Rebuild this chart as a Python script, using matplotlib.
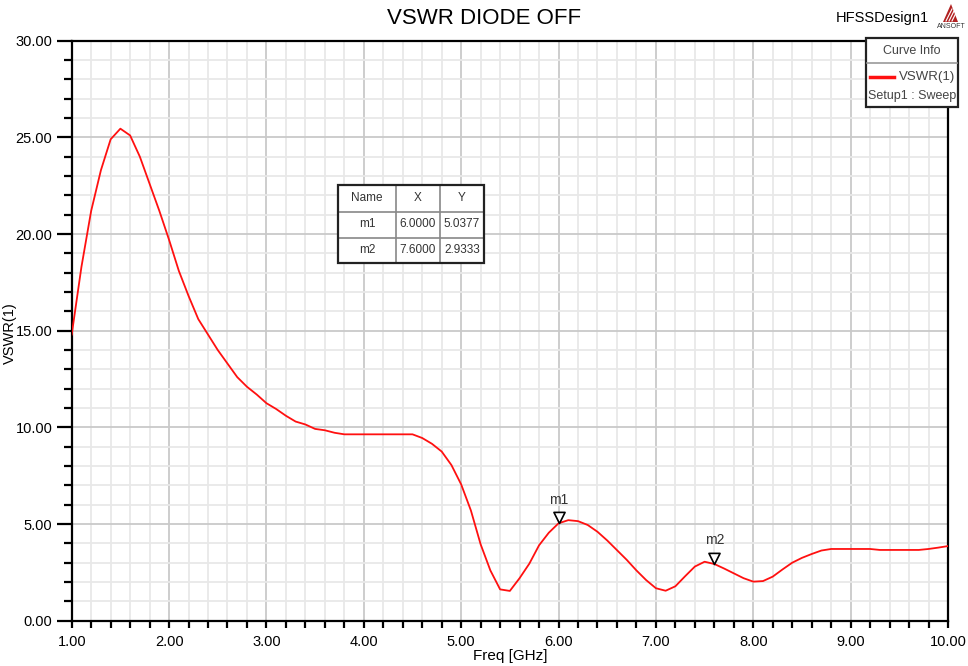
import numpy as np
import matplotlib
matplotlib.use('Agg')
import matplotlib.pyplot as plt
from matplotlib import font_manager
from matplotlib.path import Path
from matplotlib.patches import Rectangle, Polygon
from matplotlib.ticker import MultipleLocator, FormatStrFormatter

# VSWR sweep, 1-10 GHz in 0.1 GHz steps
freq = np.round(np.arange(1.0, 10.01, 0.1), 2)
vswr = [
    14.80, 18.30, 21.20, 23.30, 24.90, 25.45, 25.10, 24.00, 22.60, 21.20,   # 1.0 - 1.9
    19.70, 18.10, 16.80, 15.60, 14.80, 14.00, 13.30, 12.60, 12.10, 11.70,   # 2.0 - 2.9
    11.25, 10.95, 10.60, 10.30, 10.15, 9.92, 9.85, 9.72, 9.64, 9.64,        # 3.0 - 3.9
    9.64, 9.64, 9.64, 9.64, 9.64, 9.64, 9.45, 9.15, 8.75, 8.05,             # 4.0 - 4.9
    7.05, 5.70, 3.95, 2.60, 1.62, 1.54, 2.20, 2.95, 3.90, 4.55,             # 5.0 - 5.9
    5.0377, 5.20, 5.15, 4.95, 4.60, 4.15, 3.65, 3.15, 2.60, 2.10,           # 6.0 - 6.9
    1.68, 1.55, 1.78, 2.30, 2.80, 3.05, 2.9333, 2.70, 2.45, 2.20,           # 7.0 - 7.9
    2.02, 2.05, 2.28, 2.65, 3.00, 3.25, 3.45, 3.63, 3.71, 3.71,             # 8.0 - 8.9
    3.71, 3.71, 3.71, 3.66, 3.66, 3.66, 3.66, 3.66, 3.71, 3.78,             # 9.0 - 9.9
    3.86,                                                                   # 10.0
]

marker_names = ['m1', 'm2']
marker_freq = [6.0, 7.6]
marker_vswr = [5.0377, 2.9333]

title = 'VSWR DIODE OFF'
design_name = 'HFSSDesign1'
curve_name = 'VSWR(1)'
setup_name = 'Setup1 : Sweep'

names = {f.name for f in font_manager.fontManager.ttflist}
family = 'Liberation Sans Narrow' if 'Liberation Sans Narrow' in names else 'Liberation Sans'
plt.rcParams['font.family'] = [family, 'DejaVu Sans']

W, H = 968, 666
fig = plt.figure(figsize=(W / 100, H / 100), dpi=100)


def px(x, y):
    return x / W, 1 - y / H


x0, y0 = px(71.7, 620.7)
x1, y1 = px(948, 40.7)
ax = fig.add_axes([x0, y0, x1 - x0, y1 - y0])

ax.set_xlim(1, 10)
ax.set_ylim(0, 30)
ax.xaxis.set_major_locator(MultipleLocator(1))
ax.xaxis.set_minor_locator(MultipleLocator(0.2))
ax.yaxis.set_major_locator(MultipleLocator(5))
ax.yaxis.set_minor_locator(MultipleLocator(1))
ax.xaxis.set_major_formatter(FormatStrFormatter('%.2f'))
ax.yaxis.set_major_formatter(FormatStrFormatter('%.2f'))

ax.grid(which='major', color='#c9c9c9', lw=1.3, zorder=0)
ax.grid(which='minor', color='#e8e8e8', lw=1.3, zorder=0)
ax.set_axisbelow(True)

for s in ax.spines.values():
    s.set_color('black')
    s.set_linewidth(1.6)

ax.tick_params(axis='y', which='major', direction='out', length=11, width=1.6,
               labelsize=10.5, pad=3)
ax.tick_params(axis='y', which='minor', direction='out', length=6, width=1.6)
ax.tick_params(axis='x', which='major', direction='out', length=5, width=1.6,
               labelsize=10.5, pad=5)
ax.tick_params(axis='x', which='minor', direction='out', length=5, width=1.6)

ax.plot(freq, vswr, color='#ff1010', lw=1.3, zorder=3)

ax.set_xlabel('Freq [GHz]', fontsize=11, labelpad=0)
ax.set_ylabel(curve_name, fontsize=10.5)
ax.yaxis.set_label_coords(10 / W, 0.5, transform=fig.transFigure)
ax.yaxis.label.set_va('center')
fig.text(*px(484, 18), title, ha='center', va='center', fontsize=16)
fig.text(*px(882, 18), design_name, ha='center', va='center', fontsize=10.5)

# marker triangles, tip sitting on the curve
tri = Path([(-1, 2), (1, 2), (0, 0), (-1, 2)],
           [Path.MOVETO, Path.LINETO, Path.LINETO, Path.CLOSEPOLY])
for name, mf, mv in zip(marker_names, marker_freq, marker_vswr):
    ax.plot([mf], [mv], marker=tri, ms=16, mfc='white', mec='black', mew=1.2,
            ls='none', zorder=4)
    ax.annotate(name, (mf, mv), xytext=(0, 17), textcoords='offset points',
                ha='center', va='center', fontsize=10, color='#333333')

# marker table
cols = [338, 396, 440, 484]
rows = [185, 211.5, 237.5, 263]
cells = [['Name', 'X', 'Y']]
for name, mf, mv in zip(marker_names, marker_freq, marker_vswr):
    cells.append([name, f'{mf:.4f}', f'{mv:.4f}'])
tx, ty = px(cols[0], rows[-1])
tw, th = (cols[-1] - cols[0]) / W, (rows[-1] - rows[0]) / H
fig.patches.append(Rectangle((tx, ty), tw, th, transform=fig.transFigure,
                             facecolor='white', edgecolor='none', zorder=5))
for c in cols[1:-1]:
    fig.add_artist(plt.Line2D([c / W] * 2, [1 - rows[0] / H, 1 - rows[-1] / H],
                              transform=fig.transFigure, color='#888888', lw=1.2, zorder=6))
for r in rows[1:-1]:
    fig.add_artist(plt.Line2D([cols[0] / W, cols[-1] / W], [1 - r / H] * 2,
                              transform=fig.transFigure, color='#888888', lw=1.2, zorder=6))
fig.patches.append(Rectangle((tx, ty), tw, th, transform=fig.transFigure,
                             facecolor='none', edgecolor='#222222', lw=1.6, zorder=7))
for i, row in enumerate(cells):
    for j, val in enumerate(row):
        cx = (cols[j] + cols[j + 1]) / 2
        cy = (rows[i] + rows[i + 1]) / 2
        fig.text(*px(cx, cy), val, ha='center', va='center', fontsize=8.5,
                 color='#333333', zorder=8)

# curve info box
bx0, bx1, by0, by1, bsep = 866, 958, 38, 107, 63
fig.patches.append(Rectangle(px(bx0, by1), (bx1 - bx0) / W, (by1 - by0) / H,
                             transform=fig.transFigure, facecolor='white',
                             edgecolor='#222222', lw=1.6, zorder=5))
fig.add_artist(plt.Line2D([(bx0 + 1) / W, (bx1 - 1) / W], [1 - bsep / H] * 2,
                          transform=fig.transFigure, color='#999999', lw=1.2, zorder=6))
fig.text(*px((bx0 + bx1) / 2, 51), 'Curve Info', ha='center', va='center',
         fontsize=9, color='#444444', zorder=7)
fig.add_artist(plt.Line2D([870 / W, 894 / W], [1 - 77 / H] * 2,
                          transform=fig.transFigure, color='#ff1010', lw=2.5, zorder=7))
fig.text(*px(955, 77), curve_name, ha='right', va='center', fontsize=9.5,
         color='#444444', zorder=7)
fig.text(*px((bx0 + bx1) / 2, 96), setup_name, ha='center', va='center',
         fontsize=9, color='#444444', zorder=7)

# small logo
fig.patches.append(Polygon([px(943, 22), px(958, 22), px(951, 4)], closed=True,
                           transform=fig.transFigure, facecolor='#b22222',
                           edgecolor='none'))
for k in range(3):
    fig.add_artist(plt.Line2D([(946 + 3 * k) / W, (952 + 3 * k) / W],
                              [1 - 21 / H, 1 - 9 / H], transform=fig.transFigure,
                              color='white', lw=0.8))
fig.text(*px(951, 26), 'ANSOFT', ha='center', va='center', fontsize=5, color='#333333')

fig.savefig('out.png', dpi=100)
